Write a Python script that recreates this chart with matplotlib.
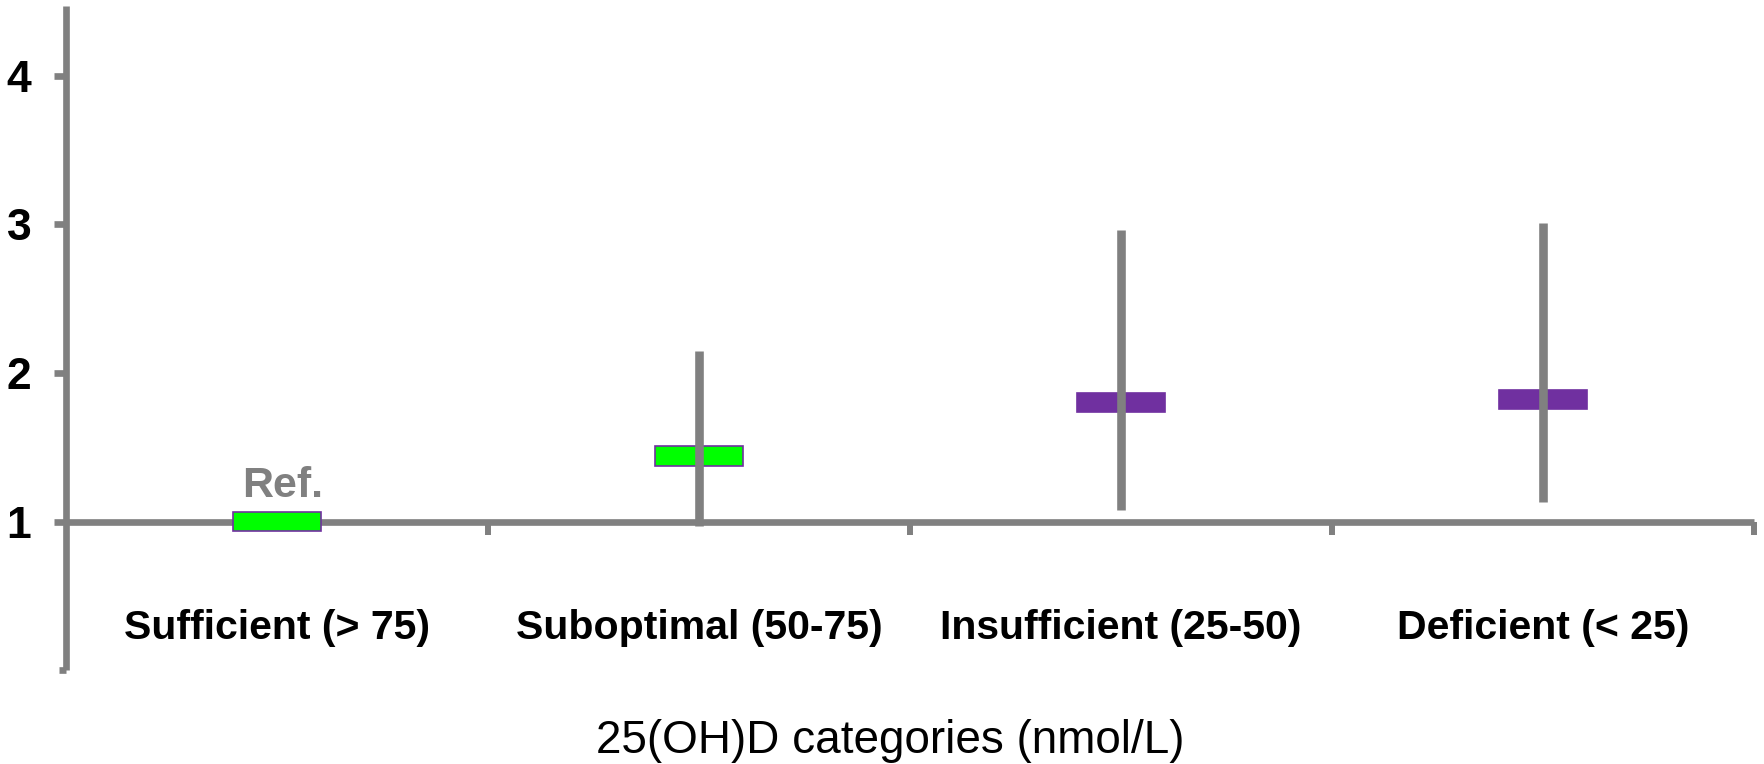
import numpy as np
import matplotlib
matplotlib.use("Agg")
from matplotlib import pyplot as plt

# Odds ratios with 95% CI by vitamin D category
categories = ['Sufficient (> 75)', 'Suboptimal (50-75)', 'Insufficient (25-50)', 'Deficient (< 25)']
odds_ratio = [1.00, 1.44, 1.80, 1.82]
ci_low = [np.nan, 0.97, 1.08, 1.13]
ci_high = [np.nan, 2.15, 2.96, 3.01]
box_colors = ['#00FF00', '#00FF00', '#7030A0', '#7030A0']
y_ticks = [1, 2, 3, 4]

grey = '#808080'
plt.rcParams['font.family'] = ['Liberation Sans', 'DejaVu Sans']

fig = plt.figure(figsize=(17.65, 7.64), dpi=100)
ax = fig.add_axes([0.0374, 0.1230, 0.9564, 0.8690])

x = np.arange(len(categories))
box_h = 0.13
box_w = 0.21
or_arr = np.array(odds_ratio)

ax.bar(x, box_h, bottom=or_arr - box_h / 2, width=box_w, color=box_colors,
       edgecolor='#7030A0', linewidth=1.2, zorder=3)
ax.vlines(x, ci_low, ci_high, color=grey, linewidth=6.2, zorder=4)

ax.annotate('Ref.', xy=(0, odds_ratio[0]), xytext=(4, 18), textcoords='offset points',
            ha='center', va='baseline', fontsize=31, fontweight='bold', color=grey)

ax.set_xlim(-0.5, len(categories) - 0.5)
ax.set_ylim(0, 4.47)

for side in ('top', 'right'):
    ax.spines[side].set_visible(False)
ax.spines['bottom'].set_position(('data', 1))
for side in ('left', 'bottom'):
    ax.spines[side].set_color(grey)
    ax.spines[side].set_linewidth(4.8)
    ax.spines[side].set_capstyle('butt')

# category boundaries as major ticks, labels on minor ticks at the centres
ax.set_xticks(x + 0.5)
ax.set_xticklabels([])
ax.set_xticks(x, minor=True)
ax.set_xticklabels(categories, minor=True, fontsize=29.5, fontweight='bold')
ax.tick_params(axis='x', which='major', direction='out', length=9.7, width=4.3, color=grey)
ax.tick_params(axis='x', which='minor', length=0, pad=63)

ax.set_yticks(y_ticks)
ax.set_yticklabels([str(v) for v in y_ticks], fontsize=32, fontweight='bold')
ax.set_yticks([0], minor=True)
ax.tick_params(axis='y', which='major', direction='out', length=9, width=4.8, color=grey, pad=16)
ax.tick_params(axis='y', which='minor', direction='out', length=5, width=4.8, color=grey)

fig.text(890 / 1765, 1 - 753 / 764, '25(OH)D categories (nmol/L)', fontsize=33,
         ha='center', va='baseline', color='black')

fig.savefig('out.png', dpi=100)
